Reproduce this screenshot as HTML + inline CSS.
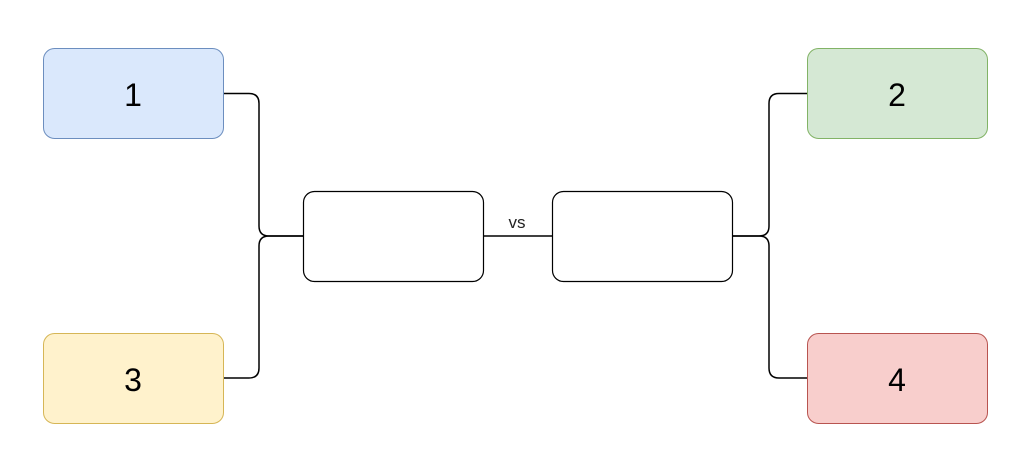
<!DOCTYPE html>
<html>
<head>
<meta charset="utf-8">
<style>
  html,body{margin:0;padding:0;background:#fff;}
  svg{display:block;}
  text{font-family:"Liberation Sans",sans-serif;}
</style>
</head>
<body>
<svg width="1027" height="471" viewBox="0 0 1027 471">
  <g fill="none" stroke="#000" stroke-width="1.5">
    <path d="M223,93.5 L249,93.5 Q259,93.5 259,103.5 L259,226 Q259,236 269,236 L303,236"/>
    <path d="M223,378 L249,378 Q259,378 259,368 L259,246 Q259,236 269,236 L303,236"/>
    <path d="M807,93.5 L779,93.5 Q769,93.5 769,103.5 L769,226 Q769,236 759,236 L732,236"/>
    <path d="M807,378 L779,378 Q769,378 769,368 L769,246 Q769,236 759,236 L732,236"/>
    <path d="M483,236 L552,236"/>
  </g>
  <rect x="43.5" y="48.5" width="180" height="90" rx="11" fill="#dae8fc" stroke="#6c8ebf"/>
  <text x="133" y="106" font-size="32" text-anchor="middle">1</text>
  <rect x="43.5" y="333.5" width="180" height="90" rx="11" fill="#fff2cc" stroke="#d6b656"/>
  <text x="133" y="391" font-size="32" text-anchor="middle">3</text>
  <rect x="807.5" y="48.5" width="180" height="90" rx="11" fill="#d5e8d4" stroke="#82b366"/>
  <text x="897" y="106" font-size="32" text-anchor="middle">2</text>
  <rect x="807.5" y="333.5" width="180" height="90" rx="11" fill="#f8cecc" stroke="#b85450"/>
  <text x="897" y="391" font-size="32" text-anchor="middle">4</text>
  <rect x="303.5" y="191.5" width="180" height="90" rx="11" fill="#fff" stroke="#000" stroke-width="1.2"/>
  <rect x="552.5" y="191.5" width="180" height="90" rx="11" fill="#fff" stroke="#000" stroke-width="1.2"/>
  <text x="517" y="228" font-size="17" text-anchor="middle" fill="#222">vs</text>
</svg>
</body>
</html>
